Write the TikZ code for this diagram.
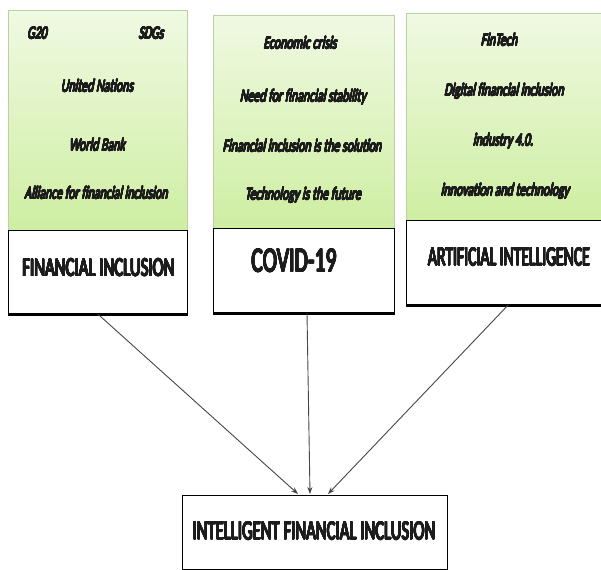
\documentclass[tikz,border=0pt]{standalone}
\usepackage{fontspec}
\usepackage[copies]{contour}
\setmainfont{Carlito}
\newfontfamily\notefont[FakeStretch=0.66, FakeSlant=0.2]{Carlito}
\newfontfamily\capsfont[FakeStretch=0.62]{Carlito}
\usetikzlibrary{arrows.meta}
\definecolor{greentop}{RGB}{240,249,226}
\definecolor{greenbot}{RGB}{206,238,162}
\definecolor{greenedge}{RGB}{188,208,168}
\definecolor{inkgray}{RGB}{70,70,70}
\definecolor{ink}{RGB}{28,28,28}
% heavy strokes for the thin regular face
\newcommand{\heavynote}[1]{\contourlength{0.35pt}\contour{ink}{#1}}
\newcommand{\heavycaps}[2][1]{\contourlength{0.5pt}\scalebox{#1}[1]{\contour{ink}{#2}}}
\tikzset{
  topic/.style={rectangle, inner sep=0pt, draw=greenedge, line width=0.6pt,
    top color=greentop, bottom color=greenbot, anchor=north west},
  headbox/.style={rectangle, inner sep=0pt, draw=black, line width=1.2pt,
    fill=white, anchor=north west},
  note/.style={font=\notefont\fontsize{18}{20}\selectfont,
    text=ink, inner sep=0pt, anchor=base},
  head/.style={font=\capsfont\fontsize{#1}{#1}\selectfont,
    text=ink, inner sep=0pt},
  link/.style={draw=inkgray, line width=0.9pt, -{Stealth[length=7pt,width=5pt]}},
  shadowedge/.style={line width=3pt, line cap=butt}
}
\begin{document}
\begin{tikzpicture}[x=1pt,y=-1pt]
  \useasboundingbox (0,0) rectangle (601,569);
  \clip (0,0) rectangle (601,569);

  % column 1: financial inclusion
  \node[topic, minimum width=179pt, minimum height=220pt] (g1) at (8,10) {};
  \node[headbox, minimum width=179pt, minimum height=83pt] (h1) at (8,230) {};
  \draw[shadowedge] (h1.south west) -- (h1.south east);
  \node[note] (g20) at (37,39) {\heavynote{G20}};
  \node[note] (sdg) at (151,39) {\heavynote{SDGs}};
  \node[note] (un) at (97,92) {\heavynote{United Nations}};
  \node[note] (wb) at (97,151) {\heavynote{World Bank}};
  \node[note] (afi) at (96,199) {\heavynote{Alliance for financial inclusion}};
  \node[head=26.5] (t1) at (98.5,268) {\heavycaps[1.02]{FINANCIAL INCLUSION}};

  % column 2: covid-19
  \node[topic, minimum width=181pt, minimum height=213pt] (g2) at (213,15) {};
  \node[headbox, minimum width=181pt, minimum height=84pt] (h2) at (213,228) {};
  \draw[shadowedge] (h2.south west) -- (h2.south east);
  \node[note] (ec) at (300,49) {\heavynote{Economic crisis}};
  \node[note] (fs) at (303,102) {\heavynote{Need for financial stability}};
  \node[note] (sol) at (302,152) {\heavynote{Financial inclusion is the solution}};
  \node[note] (fut) at (303,200) {\heavynote{Technology is the future}};
  \node[head=35] (t2) at (294,261) {\heavycaps{COVID-19}};

  % column 3: artificial intelligence
  \node[topic, minimum width=198pt, minimum height=207pt] (g3) at (406,13) {};
  \node[headbox, minimum width=198pt, minimum height=84pt] (h3) at (406,220) {};
  \draw[shadowedge] (h3.south west) -- (h3.south east);
  \node[note] (ft) at (499,46) {\heavynote{FinTech}};
  \node[note] (dfi) at (504,96) {\heavynote{Digital financial inclusion}};
  \node[note] (ind) at (503,146) {\heavynote{industry 4.0.}};
  \node[note] (inn) at (505,196) {\heavynote{innovation and technology}};
  \node[head=27.5] (t3) at (509,257) {\heavycaps[0.92]{ARTIFICIAL INTELLIGENCE}};

  % result
  \node[headbox, minimum width=265pt, minimum height=74pt] (res) at (182,495) {};
  \node[head=27.5] (t4) at (314,531) {\heavycaps[0.98]{INTELLIGENT FINANCIAL INCLUSION}};

  % connectors
  \coordinate (r1) at (298,494);
  \coordinate (r2) at (310,494);
  \coordinate (r3) at (328,494);
  \draw[link] (h1.south -| 98,0) -- (r1);
  \draw[link] (h2.south -| 307,0) -- (r2);
  \draw[link] (h3.south -| 508,0) -- (r3);
\end{tikzpicture}
\end{document}
